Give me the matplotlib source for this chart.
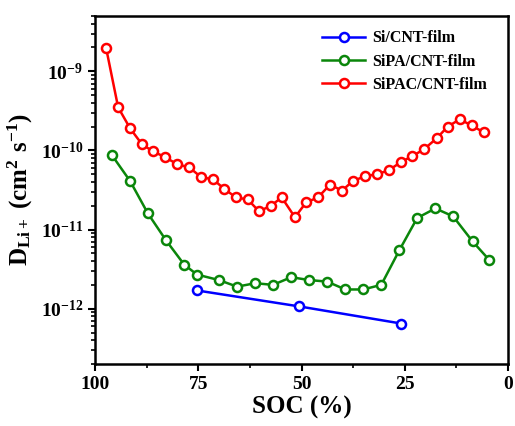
import numpy as np
import matplotlib
matplotlib.use("Agg")
import matplotlib.pyplot as plt
from matplotlib.ticker import FixedLocator, FuncFormatter, LogLocator, NullFormatter

plt.rcParams["font.family"] = "Liberation Serif"
plt.rcParams["font.weight"] = "bold"
plt.rcParams["mathtext.fontset"] = "custom"
plt.rcParams["mathtext.rm"] = "Liberation Serif:bold"
plt.rcParams["mathtext.bf"] = "Liberation Serif:bold"
plt.rcParams["mathtext.it"] = "Liberation Serif:bold"

# --- Data ---
soc_si = [75.3, 50.6, 25.9]
d_si = [1.70e-12, 1.07e-12, 6.5e-13]

soc_sipa = [95.9, 91.5, 87.2, 82.8, 78.4, 75.3, 70.0, 65.6, 61.2, 56.9, 52.5,
            48.1, 43.8, 39.4, 35.1, 30.7, 26.3, 22.0, 17.6, 13.3, 8.6, 4.5]
d_sipa = [8.7e-11, 4.1e-11, 1.6e-11, 7.3e-12, 3.6e-12, 2.7e-12, 2.3e-12,
          1.9e-12, 2.1e-12, 2.0e-12, 2.5e-12, 2.3e-12, 2.2e-12, 1.75e-12,
          1.75e-12, 2.0e-12, 5.5e-12, 1.4e-11, 1.85e-11, 1.47e-11, 7.1e-12, 4.1e-12]

soc_sipac = [97.3, 94.4, 91.5, 88.6, 85.9, 83.0, 80.1, 77.2, 74.3, 71.4, 68.8,
             65.9, 63.0, 60.3, 57.4, 54.8, 51.6, 48.9, 46.0, 43.1, 40.2, 37.6,
             34.7, 31.8, 28.9, 26.0, 23.3, 20.4, 17.3, 14.6, 11.7, 8.8, 5.9]
d_sipac = [1.95e-9, 3.5e-10, 1.9e-10, 1.19e-10, 9.7e-11, 8.2e-11, 6.7e-11,
           6.1e-11, 4.6e-11, 4.3e-11, 3.3e-11, 2.55e-11, 2.4e-11, 1.7e-11,
           2.0e-11, 2.55e-11, 1.43e-11, 2.2e-11, 2.55e-11, 3.7e-11, 3.1e-11,
           4.1e-11, 4.7e-11, 5.0e-11, 5.6e-11, 7.1e-11, 8.4e-11, 1.03e-10,
           1.42e-10, 2.0e-10, 2.47e-10, 2.07e-10, 1.69e-10]

series = [
    ("Si/CNT-film", soc_si, d_si, "#0000ff"),
    ("SiPA/CNT-film", soc_sipa, d_sipa, "#0a860a"),
    ("SiPAC/CNT-film", soc_sipac, d_sipac, "#ff0000"),
]

fig = plt.figure(figsize=(5.15, 4.26), dpi=100)
ax = fig.add_axes([0.1845, 0.1455, 0.802, 0.817])

for label, x, y, c in series:
    ax.plot(x, y, "-o", color=c, lw=1.8, ms=6.5, mfc="white", mec=c, mew=1.8,
            label=label)

ax.set_yscale("log")
ax.set_xlim(100, 0)
ax.set_ylim(2e-13, 5e-9)

ax.xaxis.set_major_locator(FixedLocator([100, 75, 50, 25, 0]))
ax.xaxis.set_minor_locator(FixedLocator([87.5, 62.5, 37.5, 12.5]))
ax.yaxis.set_major_locator(FixedLocator([1e-12, 1e-11, 1e-10, 1e-9]))
ax.yaxis.set_minor_locator(LogLocator(base=10, subs=np.arange(2, 10)))
ax.yaxis.set_minor_formatter(NullFormatter())
ax.yaxis.set_major_formatter(FuncFormatter(
    lambda v, p: r"$\mathbf{10^{%d}}$" % int(round(np.log10(v)))))

ax.tick_params(which="major", direction="out", length=5, width=1.5,
               labelsize=14, top=False, right=False)
ax.tick_params(which="minor", direction="out", length=3, width=1.2,
               top=False, right=False)
for s in ax.spines.values():
    s.set_linewidth(1.8)

ax.set_xlabel("SOC (%)", fontsize=18, fontweight="bold", labelpad=2)
ax.set_ylabel(r"$\mathbf{D_{Li+}}$ $\mathbf{(cm^2\ s^{-1})}$", fontsize=18,
              labelpad=4)

ax.legend(loc="upper right", frameon=False, fontsize=11.5, handlelength=2.7,
          handletextpad=0.45, labelspacing=0.45, borderaxespad=0.5,
          bbox_to_anchor=(0.985, 1.0))

fig.savefig("out.png", dpi=100)
